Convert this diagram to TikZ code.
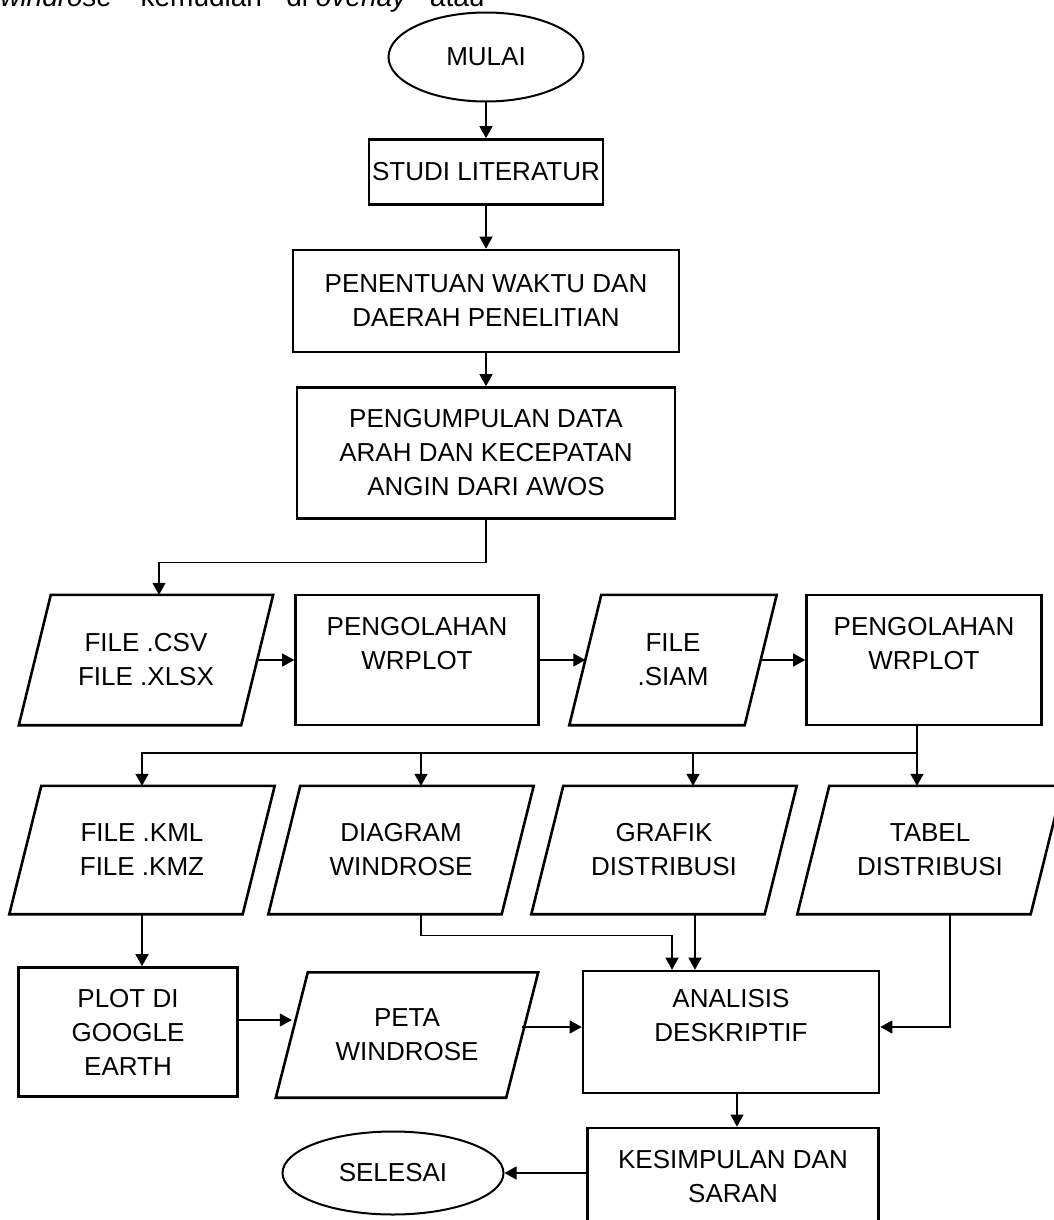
\documentclass[tikz,border=0pt]{standalone}
\usepackage{fontspec}
\setmainfont{Liberation Sans}
\usetikzlibrary{arrows.meta,shapes.geometric}

\tikzset{
  garis/.style={line width=2.6pt},
  proses/.style={draw, garis, rectangle, align=center, inner sep=0pt},
  terminal/.style={draw, line width=2pt, ellipse, inner sep=0pt},
  dataio/.style={rectangle, align=center, inner sep=0pt,
    minimum width=#1, minimum height=128pt,
    append after command={\pgfextra{\draw[garis]
      ([xshift=16pt]\tikzlastnode.north west) -- ([xshift=16pt]\tikzlastnode.north east)
      -- ([xshift=-16pt]\tikzlastnode.south east) -- ([xshift=-16pt]\tikzlastnode.south west)
      -- cycle;}}},
  dataio/.default=233pt,
  panah/.style={line width=1.3pt, -{Triangle[length=12pt,width=13pt]}}
}

\begin{document}
\begin{tikzpicture}[x=1pt, y=-1pt, every node/.style={font=\fontsize{26}{34}\selectfont}]
  \useasboundingbox (0,0) rectangle (1054,1220);

  % Teks di atas
  \node[anchor=base east, font=\fontsize{28}{34}\selectfont] (teks) at (488,7)
    {\textit{windrose}”\hspace{19pt}kemudian\hspace{15pt}“di \textit{overlay}”\hspace{13pt}atau};

  % Alur utama
  \node[terminal, minimum width=195pt, minimum height=89pt] (mulai) at (486,57) {MULAI};
  \node[proses, minimum width=234pt, minimum height=65pt] (studi) at (486,172) {STUDI LITERATUR};
  \node[proses, minimum width=386pt, minimum height=102pt] (tentu) at (486,301)
    {PENENTUAN WAKTU DAN\\DAERAH PENELITIAN};
  \node[proses, minimum width=378pt, minimum height=131pt] (kumpul) at (486,453)
    {PENGUMPULAN DATA\\ARAH DAN KECEPATAN\\ANGIN DARI AWOS};

  % Baris pengolahan
  \node[dataio=222pt, minimum height=130pt] (csv) at (146,660) {FILE .CSV\\FILE .XLSX};
  \node[proses, minimum width=243pt, minimum height=130pt] (olah1) at (417,660) {PENGOLAHAN\\WRPLOT\\~};
  \node[dataio=175pt, minimum height=130pt] (siam) at (673,660) {FILE\\.SIAM};
  \node[proses, minimum width=235pt, minimum height=130pt] (olah2) at (924,660) {PENGOLAHAN\\WRPLOT\\~};

  % Hasil
  \node[dataio] (kml) at (142,850) {FILE .KML\\FILE .KMZ};
  \node[dataio] (diag) at (401,850) {DIAGRAM\\WINDROSE};
  \node[dataio] (grafik) at (664,850) {GRAFIK\\DISTRIBUSI};
  \node[dataio] (tabel) at (930,850) {TABEL\\DISTRIBUSI};

  % Analisis
  \node[proses, minimum width=219pt, minimum height=129pt] (plot) at (128,1032) {PLOT DI\\GOOGLE\\EARTH};
  \node[dataio=230pt, minimum height=125pt] (peta) at (407,1035) {PETA\\WINDROSE};
  \node[proses, minimum width=296pt, minimum height=122pt] (ana) at (731,1032) {ANALISIS\\DESKRIPTIF\\~};
  \node[proses, minimum width=291pt, minimum height=98pt] (kes) at (733,1177) {KESIMPULAN DAN\\SARAN};
  \node[terminal, minimum width=221pt, minimum height=83pt] (selesai) at (393,1173) {SELESAI};

  % Panah alur utama
  \draw[panah] (mulai) -- (studi);
  \draw[panah] (studi) -- (tentu);
  \draw[panah] (tentu) -- (kumpul);
  \draw[panah] (kumpul.south) -- ++(0,43) -| ([xshift=13pt]csv.north);
  \draw[panah] (csv) -- (olah1);
  \draw[panah] (olah1) -- (siam);
  \draw[panah] (siam) -- (olah2);

  % Cabang ke hasil
  \coordinate (cabang) at (917,753);
  \draw[line width=1.3pt] ([xshift=-7pt]olah2.south) -- (cabang);
  \draw[panah] (cabang) -| (kml.north);
  \draw[panah] (cabang) -| ([xshift=20pt]diag.north);
  \draw[panah] (cabang) -| ([xshift=29pt]grafik.north);
  \draw[panah] (cabang) -- ([xshift=-13pt]tabel.north);

  % Ke analisis
  \draw[panah] (kml.south) -- (kml.south |- plot.north);
  \coordinate (p1) at ([yshift=12pt]plot.east);
  \draw[panah] (p1) -- (p1 -| peta.west);
  \coordinate (p2) at ([yshift=8pt]peta.east);
  \draw[panah] (p2) -- (p2 -| ana.west);
  \draw[panah] ([xshift=20pt]diag.south) -- ++(0,21) -| ([xshift=-59pt]ana.north);
  \coordinate (g1) at ([xshift=31pt]grafik.south);
  \draw[panah] (g1) -- (g1 |- ana.north);
  \draw[panah] ([xshift=20pt]tabel.south) |- ([yshift=5pt]ana.east);

  % Ke akhir
  \coordinate (a1) at ([xshift=6pt]ana.south);
  \draw[panah] (a1) -- (a1 |- kes.north);
  \draw[panah] (kes.west |- selesai) -- (selesai);
\end{tikzpicture}
\end{document}
